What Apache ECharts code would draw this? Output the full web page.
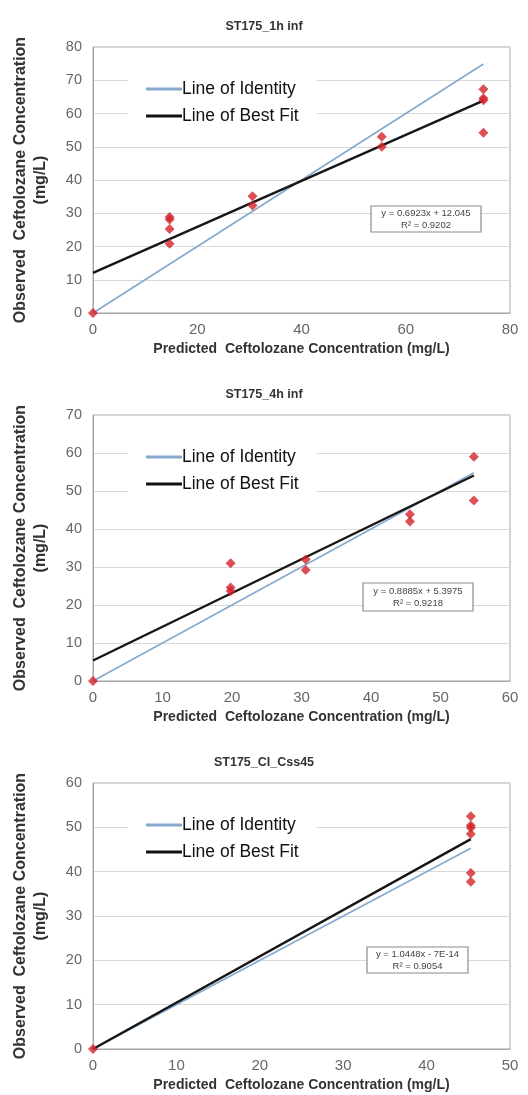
<!DOCTYPE html>
<html>
<head>
<meta charset="utf-8">
<script src="https://cdn.jsdelivr.net/npm/echarts@6/dist/echarts.min.js"></script>
<style>
  html, body { margin: 0; padding: 0; background: #fff; }
  #chart { width: 528px; height: 1095px; }
</style>
</head>
<body>
<div id="chart"></div>
<script>
// Panel titles
const titles = ['ST175_1h inf', 'ST175_4h inf', 'ST175_CI_Css45'];

// Predicted vs observed ceftolozane concentrations (mg/L), one pair per panel
const pred1h = [0, 14.7, 14.7, 14.7, 14.7, 30.6, 30.6, 55.4, 55.4, 74.9, 74.9, 74.9, 74.9];
const obs1h  = [0, 28.9, 28.1, 25.3, 20.8, 35.1, 32.3, 53.0, 50.0, 67.3, 64.6, 64.0, 54.2];

const pred4h = [0, 19.8, 19.8, 19.8, 30.6, 30.6, 45.6, 45.6, 54.8, 54.8];
const obs4h  = [0, 31.0, 24.6, 23.7, 32.0, 29.2, 43.9, 42.0, 59.0, 47.5];

const predCI = [0, 45.3, 45.3, 45.3, 45.3, 45.3, 45.3];
const obsCI  = [0, 52.5, 50.4, 49.9, 48.5, 39.7, 37.7];

// Regression results shown in each panel
const slopes     = [0.6923, 0.8885, 1.0448];
const intercepts = [12.045, 5.3975, -7e-14];
const eqLabels   = ['y = 0.6923x + 12.045', 'y = 0.8885x + 5.3975', 'y = 1.0448x - 7E-14'];
const r2Labels   = ['R² = 0.9202', 'R² = 0.9218', 'R² = 0.9054'];

// Axis ranges
const xMax = [80, 60, 50];
const xStep = [20, 10, 10];
const yMax = [80, 70, 60];
const yStep = [10, 10, 10];

const preds = [pred1h, pred4h, predCI];
const obss  = [obs1h, obs4h, obsCI];

const FONT = "'Liberation Sans', Arial, sans-serif";
const gridTops = [47, 415, 783];
const gridH = 266;
const gridLeft = 93, gridRight = 18;
const eqBoxes = [
  { x: 371, y: 206, w: 110, h: 26 },
  { x: 363, y: 583, w: 110, h: 28 },
  { x: 367, y: 947, w: 101, h: 26 }
];

const option = {
  backgroundColor: '#fff',
  animation: false,
  title: [], grid: [], xAxis: [], yAxis: [], legend: [], series: [], graphic: []
};

for (let i = 0; i < 3; i++) {
  const top = gridTops[i];
  option.title.push({
    text: titles[i], left: 'center', top: top - 32,
    textStyle: { fontFamily: FONT, fontSize: 12.5, fontWeight: 'bold', color: '#333' }
  });
  option.grid.push({
    left: gridLeft, right: gridRight, top: top, height: gridH,
    show: true, borderColor: '#a6a6a6', borderWidth: 1, backgroundColor: '#fff'
  });
  option.xAxis.push({
    type: 'value', gridIndex: i, min: 0, max: xMax[i], interval: xStep[i],
    name: 'Predicted  Ceftolozane Concentration (mg/L)',
    nameLocation: 'middle', nameGap: 29,
    nameTextStyle: { fontFamily: FONT, fontSize: 14, fontWeight: 'bold', color: '#333' },
    axisLine: { show: true, lineStyle: { color: '#a6a6a6' } },
    axisTick: { show: false },
    axisLabel: { fontFamily: FONT, fontSize: 15, color: '#666', margin: 9 },
    splitLine: { show: false }
  });
  option.yAxis.push({
    type: 'value', gridIndex: i, min: 0, max: yMax[i], interval: yStep[i],
    name: 'Observed  Ceftolozane Concentration\n(mg/L)',
    nameLocation: 'middle', nameGap: 42, nameRotate: 90,
    nameTextStyle: { fontFamily: FONT, fontSize: 16, fontWeight: 'bold', color: '#333', lineHeight: 20 },
    axisLine: { show: true, lineStyle: { color: '#a6a6a6' } },
    axisTick: { show: false },
    axisLabel: { fontFamily: FONT, fontSize: 14.5, color: '#666', margin: 11 },
    splitLine: { show: true, lineStyle: { color: '#d9d9d9', width: 1 } }
  });
  option.legend.push({
    orient: 'vertical', left: 128, top: top + 27,
    backgroundColor: '#fff', padding: [6, 18, 6, 18], itemGap: 9,
    itemWidth: 36, itemHeight: 3, selectedMode: false,
    textStyle: { fontFamily: FONT, fontSize: 17.5, color: '#111', padding: [0, 0, 0, -5] },
    data: [
      { name: 'Line of Identity', icon: 'rect', itemStyle: { color: '#85a9cc' } },
      { name: 'Line of Best Fit', icon: 'rect', itemStyle: { color: '#111' } }
    ]
  });

  const px = preds[i], py = obss[i];
  const hi = Math.max(...px);
  const points = px.map((x, k) => [x, py[k]]);

  option.series.push({
    name: 'Line of Identity', type: 'line', xAxisIndex: i, yAxisIndex: i,
    data: [[0, 0], [hi, hi]], symbol: 'none', z: 3,
    lineStyle: { color: '#85a9cc', width: 1.6 }
  });
  option.series.push({
    name: 'Line of Best Fit', type: 'line', xAxisIndex: i, yAxisIndex: i,
    data: [[0, intercepts[i]], [hi, slopes[i] * hi + intercepts[i]]], symbol: 'none', z: 4,
    lineStyle: { color: '#161616', width: 2.4 }
  });
  option.series.push({
    name: 'Observed', type: 'scatter', xAxisIndex: i, yAxisIndex: i,
    data: points, symbol: 'diamond', symbolSize: 10, clip: false, z: 5,
    itemStyle: { color: '#d2232a' }
  });

  // Regression equation box
  const b = eqBoxes[i];
  option.graphic.push(
    { type: 'rect', z: 100, shape: { x: b.x, y: b.y, width: b.w, height: b.h },
      style: { fill: '#fff', stroke: '#8c8c8c', lineWidth: 1.2 } },
    { type: 'text', z: 101, x: b.x + b.w / 2, y: b.y + b.h / 2 - 5.5,
      style: { text: eqLabels[i], fontFamily: FONT, fontSize: 9.5, fill: '#444', align: 'center', verticalAlign: 'middle' } },
    { type: 'text', z: 101, x: b.x + b.w / 2, y: b.y + b.h / 2 + 6,
      style: { text: r2Labels[i], fontFamily: FONT, fontSize: 9.5, fill: '#444', align: 'center', verticalAlign: 'middle' } }
  );
}

const chart = echarts.init(document.getElementById('chart'), null, { renderer: 'canvas' });
chart.setOption(option);
</script>
</body>
</html>
